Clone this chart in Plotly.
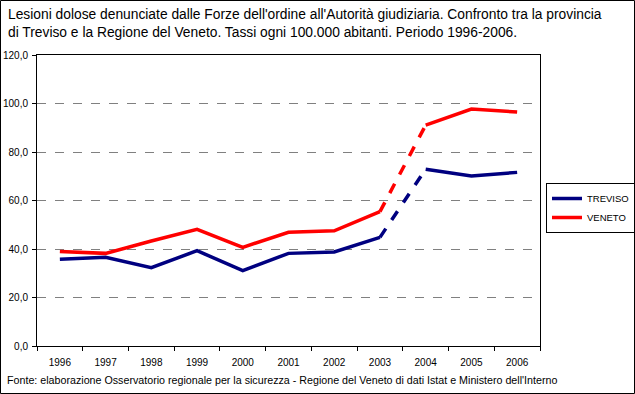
import plotly.graph_objects as go

years = ["1996", "1997", "1998", "1999", "2000", "2001", "2002", "2003", "2004", "2005", "2006"]
treviso = [35.8, 36.6, 32.3, 39.3, 31.1, 38.2, 38.8, 44.8, 72.9, 70.1, 71.6]
veneto = [39.0, 38.2, 43.3, 48.1, 40.7, 46.9, 47.5, 55.4, 91.1, 97.7, 96.5]
series_names = ["TREVISO", "VENETO"]
series_colors = ["#000080", "#FF0000"]
y_ticks = [0, 20, 40, 60, 80, 100, 120]
y_tick_labels = ["0,0", "20,0", "40,0", "60,0", "80,0", "100,0", "120,0"]

title_text = ("Lesioni dolose denunciate dalle Forze dell'ordine all'Autorità giudiziaria. Confronto tra la provincia<br>"
              "di Treviso e la Regione del Veneto. Tassi ogni 100.000 abitanti. Periodo 1996-2006.")
source_text = "Fonte: elaborazione Osservatorio regionale per la sicurezza - Regione del Veneto di dati Istat e Ministero dell'Interno"

FONT = "Liberation Sans"
fig = go.Figure()

brk = years.index("2003")
for name, vals, col in zip(series_names, [treviso, veneto], series_colors):
    fig.add_trace(go.Scatter(x=years[:brk + 1], y=vals[:brk + 1], mode="lines", name=name,
                             line=dict(color=col, width=3.5), legendgroup=name, showlegend=True))
    fig.add_trace(go.Scatter(x=years[brk:brk + 2], y=vals[brk:brk + 2], mode="lines", name=name,
                             line=dict(color=col, width=3.5, dash="dash"), legendgroup=name, showlegend=False))
    fig.add_trace(go.Scatter(x=years[brk + 1:], y=vals[brk + 1:], mode="lines", name=name,
                             line=dict(color=col, width=3.5), legendgroup=name, showlegend=False))

PW, PH = 503, 291
fig.update_layout(
    width=635, height=394,
    margin=dict(l=37, r=95, t=55, b=48, autoexpand=False),
    paper_bgcolor="white", plot_bgcolor="white",
    font=dict(family=FONT, size=10, color="black"),
    showlegend=True,
    legend=dict(x=(546 - 37) / PW, y=(346 - 183) / PH, xanchor="left", yanchor="top",
                bordercolor="black", borderwidth=1, bgcolor="white",
                font=dict(size=9.5, family=FONT), itemwidth=30, tracegroupgap=0,
                traceorder="normal"),
    xaxis=dict(type="category", categoryorder="array", categoryarray=years,
               showline=True, linecolor="black", linewidth=1, mirror=True,
               ticks="outside", tickson="boundaries", ticklen=4, tickcolor="black",
               showgrid=False, tickfont=dict(size=10, family=FONT), range=[-0.5, 10.5],
               automargin=False, ticklabelstandoff=7),
    yaxis=dict(range=[0, 120], tickvals=y_ticks, ticktext=y_tick_labels,
               showline=True, linecolor="black", linewidth=1, mirror=True,
               ticks="outside", ticklen=4, tickcolor="black",
               showgrid=True, gridcolor="#808080", griddash="dash", gridwidth=1,
               zeroline=False, tickfont=dict(size=10, family=FONT), automargin=False,
               ticklabelstandoff=2),
    annotations=[
        dict(text=title_text, xref="paper", yref="paper", x=-(37 - 6) / PW, y=1 + (55 - 5) / PH,
             xanchor="left", yanchor="top", showarrow=False, align="left",
             font=dict(size=13.8, family=FONT, color="black")),
        dict(text=source_text, xref="paper", yref="paper", x=-(37 - 5) / PW, y=-(380 - 346) / PH,
             xanchor="left", yanchor="middle", showarrow=False, align="left",
             font=dict(size=10.7, family=FONT, color="black")),
    ],
    shapes=[dict(type="rect", xref="paper", yref="paper",
                 x0=-36.5 / PW, x1=(634.5 - 37) / PW, y0=-(393.5 - 346) / PH, y1=1 + (55 - 0.5) / PH,
                 line=dict(color="black", width=1), layer="above")],
)

fig.write_html("out.html", config={"displayModeBar": False},
               post_script="document.body.style.margin='0';document.body.style.overflow='hidden';")
